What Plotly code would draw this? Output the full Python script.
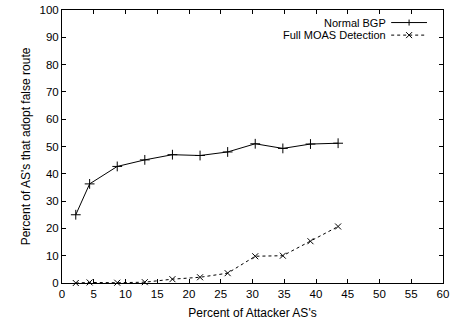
import plotly.graph_objects as go

attacker_pct = [2.17, 4.35, 8.70, 13.04, 17.39, 21.74, 26.09, 30.43, 34.78, 39.13, 43.48]
normal_bgp = [25.0, 36.3, 42.7, 45.1, 47.0, 46.7, 48.0, 51.0, 49.3, 50.9, 51.2]
full_moas = [0.0, 0.2, 0.1, 0.3, 1.4, 2.1, 3.6, 9.8, 10.0, 15.3, 20.7]
series_names = ["Normal BGP", "Full MOAS Detection"]

FONT = "Liberation Sans, Arial, Helvetica, sans-serif"
L, R, T, B, W, H = 62, 10, 10, 42, 453, 325
PW, PH = W - L - R, H - T - B

fig = go.Figure()
fig.add_trace(go.Scatter(
    x=attacker_pct, y=normal_bgp, mode="lines+markers", name=series_names[0],
    line=dict(color="black", width=1),
    marker=dict(symbol="cross-thin", size=7, line=dict(color="black", width=1)),
    showlegend=False, cliponaxis=False))
fig.add_trace(go.Scatter(
    x=attacker_pct, y=full_moas, mode="lines+markers", name=series_names[1],
    line=dict(color="black", width=1, dash="3px,3px"),
    marker=dict(symbol="x-thin", size=6, line=dict(color="black", width=1)),
    showlegend=False, cliponaxis=False))

# legend (gnuplot style: text right-aligned, sample to the right)
leg_rows = [(0.954, "solid", "+"), (0.908, "3px,3px", "x")]
x0, x1 = 0.864, 0.958
xm = (x0 + x1) / 2
dx, dy = 3.0 / PW, 3.0 / PH
for (yy, dash, sym), name in zip(leg_rows, series_names):
    fig.add_annotation(xref="paper", yref="paper", x=0.856, y=yy, text=name,
                       showarrow=False, xanchor="right", yanchor="middle",
                       font=dict(family=FONT, size=11, color="black"))
    fig.add_shape(type="line", xref="paper", yref="paper", x0=x0, x1=x1, y0=yy, y1=yy,
                  line=dict(color="black", width=1, dash=dash))
    if sym == "+":
        fig.add_shape(type="line", xref="paper", yref="paper", x0=xm, x1=xm,
                      y0=yy - dy, y1=yy + dy, line=dict(color="black", width=1))
    else:
        for s in (1, -1):
            fig.add_shape(type="line", xref="paper", yref="paper", x0=xm - dx, x1=xm + dx,
                          y0=yy - s * dy, y1=yy + s * dy, line=dict(color="black", width=1))

axis_common = dict(showgrid=False, zeroline=False, showline=True, linecolor="black",
                   linewidth=1, mirror="allticks", ticks="inside", ticklen=4,
                   tickcolor="black", tickwidth=1, automargin=False,
                   tickfont=dict(family=FONT, size=11.5, color="black"))
fig.update_xaxes(range=[0, 60], dtick=5, tick0=0,
                 title=dict(text="Percent of Attacker AS's", standoff=9,
                            font=dict(family=FONT, size=12, color="black")),
                 **axis_common)
fig.update_yaxes(range=[0, 100], dtick=10, tick0=0,
                 title=dict(text="Percent of AS's that adopt false route", standoff=6,
                            font=dict(family=FONT, size=12, color="black")),
                 **axis_common)
fig.update_layout(width=W, height=H, margin=dict(l=L, r=R, t=T, b=B, pad=0),
                  plot_bgcolor="white", paper_bgcolor="white", showlegend=False)
fig.write_html("out.html")
